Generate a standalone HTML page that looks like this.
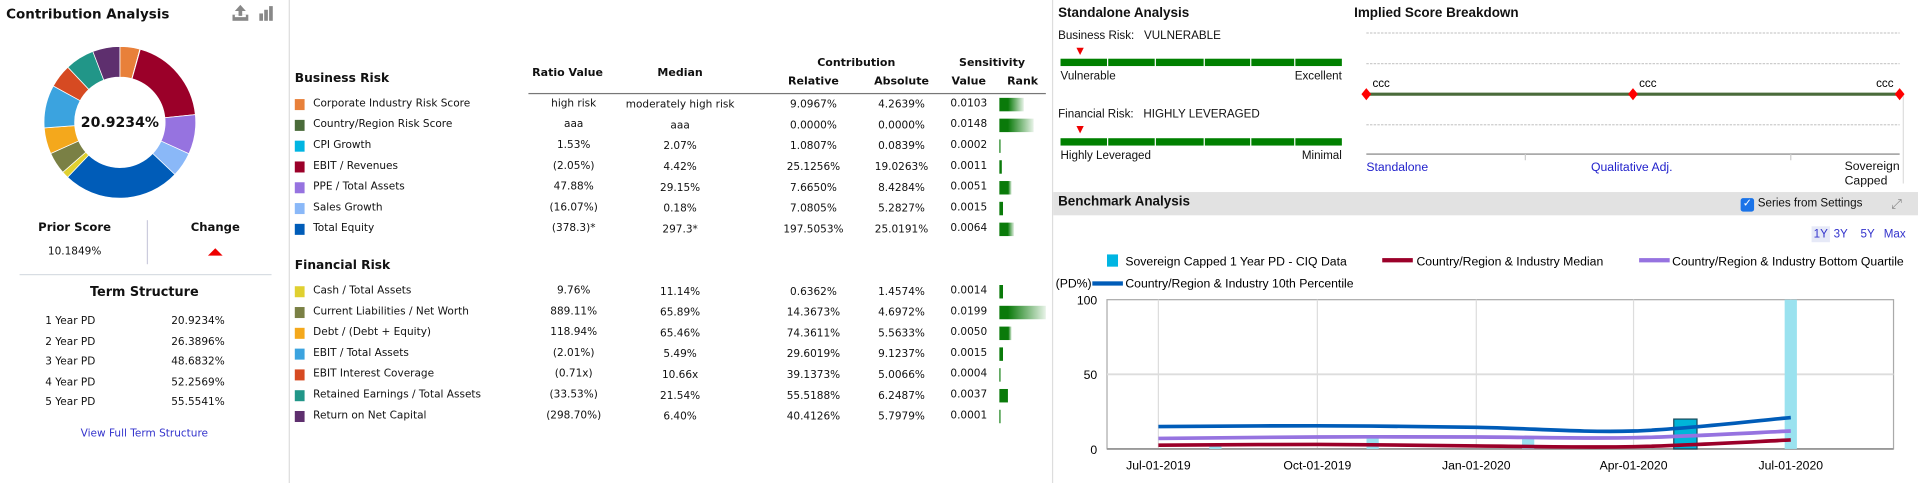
<!DOCTYPE html>
<html><head><meta charset="utf-8">
<style>
html,body{margin:0;padding:0;background:#fff;overflow:hidden;width:1918px;height:483px}
#root{position:absolute;left:0;top:0;width:1568px;height:395px;transform:scale(1.22321);transform-origin:0 0;font-family:"DejaVu Sans","Liberation Sans",sans-serif;color:#111}
.a{position:absolute;white-space:nowrap}
.t{font-family:"DejaVu Sans",sans-serif;font-size:8.6px}
.h{font-family:"DejaVu Sans",sans-serif;font-weight:bold;font-size:10px}
.n{font-family:"Liberation Sans Narrow","Liberation Sans",sans-serif;font-size:9.5px}
.c{transform:translateX(-50%)}
.r{transform:translateX(-100%)}
.seg{position:absolute;height:6px;background:#008000}
</style></head><body>
<div id="root">
<!-- Left panel -->
<div class="a h" style="left:5px;top:5px;font-size:11px">Contribution Analysis</div>
<svg class="a" style="left:190px;top:3px" width="40" height="16">
<g fill="#888"><rect x="0" y="9" width="13" height="5"/><rect x="2" y="9" width="9" height="2" fill="#fff"/><polygon points="6.5,1 11,6 8,6 8,10 5,10 5,6 2,6"/></g>
<g fill="#888"><rect x="22" y="8" width="3" height="6"/><rect x="26" y="5" width="3" height="9"/><rect x="30" y="2" width="3" height="12"/></g>
</svg>
<svg id="donut" class="a" style="left:0;top:0" width="236" height="180"></svg>
<div class="a h c" style="left:98px;top:93px;font-size:11.5px">20.9234%</div>
<div class="a h c" style="left:61px;top:181px;font-size:9.5px">Prior Score</div>
<div class="a t c" style="left:61px;top:201px">10.1849%</div>
<div class="a" style="left:120px;top:180px;width:1px;height:36px;background:#ccd"></div>
<div class="a h c" style="left:176px;top:181px;font-size:9.5px">Change</div>
<div class="a" style="left:170px;top:203px;width:0;height:0;border-left:6px solid transparent;border-right:6px solid transparent;border-bottom:6px solid #e00"></div>
<div class="a" style="left:16px;top:224px;width:206px;height:1px;background:#d8dde3"></div>
<div class="a h c" style="left:118px;top:233px;font-size:10.5px">Term Structure</div>
<div id="term"></div>
<div class="a t c" style="left:118px;top:350px;color:#3333cc">View Full Term Structure</div>
<div class="a" style="left:236px;top:0;width:1px;height:395px;background:#ddd"></div>

<!-- Middle table -->
<div class="a h" style="left:241px;top:59px">Business Risk</div>
<div class="a h c" style="left:464px;top:55px;font-size:9px">Ratio Value</div>
<div class="a h c" style="left:556px;top:55px;font-size:9px">Median</div>
<div class="a h c" style="left:700px;top:47px;font-size:9px">Contribution</div>
<div class="a h c" style="left:665px;top:62px;font-size:9px">Relative</div>
<div class="a h c" style="left:737px;top:62px;font-size:9px">Absolute</div>
<div class="a h c" style="left:811px;top:47px;font-size:9px">Sensitivity</div>
<div class="a h c" style="left:792px;top:62px;font-size:9px">Value</div>
<div class="a h c" style="left:836px;top:62px;font-size:9px">Rank</div>
<div class="a" style="left:432px;top:76px;width:423px;height:1px;background:#777"></div>
<div class="a h" style="left:241px;top:212px">Financial Risk</div>
<div id="rows"></div>
<div class="a" style="left:860px;top:0;width:1px;height:395px;background:#ddd"></div>

<!-- Standalone -->
<div class="a h n" style="left:865px;top:5px;font-size:11px;font-family:'Liberation Sans Narrow','Liberation Sans',sans-serif">Standalone Analysis</div>
<div class="a n" style="left:865px;top:24px">Business Risk:&nbsp;&nbsp; VULNERABLE</div>
<div class="a" style="left:880px;top:39px;border-left:3px solid transparent;border-right:3px solid transparent;border-top:6px solid #e00"></div>
<div id="bizbar"></div>
<div class="a n" style="left:867px;top:57px">Vulnerable</div>
<div class="a n r" style="left:1097px;top:57px">Excellent</div>
<div class="a n" style="left:865px;top:88px">Financial Risk:&nbsp;&nbsp; HIGHLY LEVERAGED</div>
<div class="a" style="left:880px;top:103px;border-left:3px solid transparent;border-right:3px solid transparent;border-top:6px solid #e00"></div>
<div id="finbar"></div>
<div class="a n" style="left:867px;top:122px">Highly Leveraged</div>
<div class="a n r" style="left:1097px;top:122px">Minimal</div>

<!-- Implied score -->
<div class="a h" style="left:1107px;top:5px;font-size:11px;font-family:'Liberation Sans Narrow','Liberation Sans',sans-serif">Implied Score Breakdown</div>
<svg id="implied" class="a" style="left:0;top:0" width="1568" height="160"></svg>

<!-- Benchmark -->
<div class="a" style="left:861px;top:157px;width:707px;height:19px;background:#e2e2e2"></div>
<div class="a h" style="left:865px;top:159px;font-size:11px;font-family:'Liberation Sans Narrow','Liberation Sans',sans-serif">Benchmark Analysis</div>
<div class="a" style="left:1423px;top:162px;width:11px;height:11px;background:#1a73e8;border-radius:2px;color:#fff;font-size:9px;line-height:11px;text-align:center">✓</div>
<div class="a n" style="left:1437px;top:161px">Series from Settings</div>
<div class="a" style="left:1546px;top:160px;color:#888;font-size:11px">⤢</div>
<div class="a n" style="left:1481px;top:185px;background:#e6e9f7;width:15px;height:13px;color:#3333cc;text-align:center;line-height:13px">1Y</div>
<div class="a n" style="left:1499px;top:185px;color:#3333cc;line-height:13px">3Y</div>
<div class="a n" style="left:1521px;top:185px;color:#3333cc;line-height:13px">5Y</div>
<div class="a n" style="left:1540px;top:185px;color:#3333cc;line-height:13px">Max</div>
<svg id="bench" class="a" style="left:0;top:0" width="1568" height="395"></svg>
</div>
<script>
// ---- Donut data ----
const donutLabels=["Corporate Industry Risk Score","Country/Region Risk Score","CPI Growth","EBIT / Revenues","PPE / Total Assets","Sales Growth","Total Equity","Cash / Total Assets","Current Liabilities / Net Worth","Debt / (Debt + Equity)","EBIT / Total Assets","EBIT Interest Coverage","Retained Earnings / Total Assets","Return on Net Capital"];
const donutValues=[4.2639,0.0,0.0839,19.0263,8.4284,5.2827,25.0191,1.4574,4.6972,5.5633,9.1237,5.0066,6.2487,5.7979];
const donutColors=["#e8803a","#4a6b3a","#00b5e2","#9b0029","#9673e0","#8ab8f8","#005cb8","#e0d030","#7a8045","#f4a81c","#3ba3df","#d64a22","#219688","#5e2f6e"];
const ns="http://www.w3.org/2000/svg";
function mk(t,at,p){const e=document.createElementNS(ns,t);for(const k in at)e.setAttribute(k,at[k]);p.appendChild(e);return e;}
(function(){
 const svg=document.getElementById('donut');const cx=98,cy=100,R=62,r=37;
 const tot=donutValues.reduce((a,b)=>a+b,0);let a0=0;
 donutValues.forEach((v,i)=>{
  const a1=a0+v/tot*Math.PI*2;
  const p=(a,rr)=>[cx+rr*Math.sin(a),cy-rr*Math.cos(a)];
  const [x1,y1]=p(a0,R),[x2,y2]=p(a1,R),[x3,y3]=p(a1,r),[x4,y4]=p(a0,r);const lg=(a1-a0)>Math.PI?1:0;
  const e=mk('path',{d:`M${x1},${y1}A${R},${R} 0 ${lg} 1 ${x2},${y2}L${x3},${y3}A${r},${r} 0 ${lg} 0 ${x4},${y4}Z`,fill:donutColors[i],stroke:'#fff','stroke-width':0.6},svg);
  
  
  a0=a1;});
})();
// ---- Term structure ----
const termLabels=["1 Year PD","2 Year PD","3 Year PD","4 Year PD","5 Year PD"];
const termValues=["20.9234%","26.3896%","48.6832%","52.2569%","55.5541%"];
(function(){const root=document.getElementById('root');
 termLabels.forEach((l,i)=>{const y=258+i*16.6;
  const a=document.createElement('div');a.className='a t';a.style.left='37px';a.style.top=y+'px';a.textContent=l;
  
  
  root.appendChild(a);
  const b=document.createElement('div');b.className='a t';b.style.left='140px';b.style.top=y+'px';b.textContent=termValues[i];
  
  
  root.appendChild(b);});})();
// ---- Table ----
const ratioVals=["high risk","aaa","1.53%","(2.05%)","47.88%","(16.07%)","(378.3)*","9.76%","889.11%","118.94%","(2.01%)","(0.71x)","(33.53%)","(298.70%)"];
const medianVals=["moderately high risk","aaa","2.07%","4.42%","29.15%","0.18%","297.3*","11.14%","65.89%","65.46%","5.49%","10.66x","21.54%","6.40%"];
const relVals=["9.0967%","0.0000%","1.0807%","25.1256%","7.6650%","7.0805%","197.5053%","0.6362%","14.3673%","74.3611%","29.6019%","39.1373%","55.5188%","40.4126%"];
const absVals=["4.2639%","0.0000%","0.0839%","19.0263%","8.4284%","5.2827%","25.0191%","1.4574%","4.6972%","5.5633%","9.1237%","5.0066%","6.2487%","5.7979%"];
const sensVals=[0.0103,0.0148,0.0002,0.0011,0.0051,0.0015,0.0064,0.0014,0.0199,0.0050,0.0015,0.0004,0.0037,0.0001];
(function(){const root=document.getElementById('root');
 const add=(txt,x,y,cls,name)=>{const d=document.createElement('div');d.className='a t '+cls;d.style.left=x+'px';d.style.top=y+'px';d.textContent=txt;
  
  
  root.appendChild(d);return d;};
 donutLabels.forEach((l,i)=>{const y=(i<7?80+i*17:233+(i-7)*17);
  const sq=document.createElement('div');sq.className='a';sq.style.cssText=`left:241px;top:${y+1}px;width:8px;height:9px;background:${donutColors[i]}`;
  
  
  root.appendChild(sq);
  add(l,256,y,'','factor-label');
  add(ratioVals[i],469,y,'c','ratio-value');
  add(medianVals[i],556,y+1,'c','median-value');
  add(relVals[i],665,y+1,'c','relative-contribution');
  add(absVals[i],737,y+1,'c','absolute-contribution');
  add(sensVals[i].toFixed(4),792,y,'c','sensitivity-value');
  const w=Math.max(1.2,sensVals[i]*1900);
  const b=document.createElement('div');b.className='a';b.style.cssText=`left:817px;top:${y}px;width:${w}px;height:11px;background:linear-gradient(to right,#0a7a0a,#0a7a0a ${Math.min(100,700/w)}%,#e8f3e8)`;
  
  
  root.appendChild(b);});
 // standalone bars
 const segs=(top,id)=>{const xs=[867,905,944,984,1022,1058,1097];for(let k=0;k<6;k++){const s=document.createElement('div');s.className='seg';s.style.left=(xs[k]+(k?1:0))+'px';s.style.top=top+'px';s.style.width=(xs[k+1]-xs[k]-(k?1:0))+'px';
  
  
  root.appendChild(s);}};
 segs(48,'business-risk');segs(113,'financial-risk');
})();
// ---- Implied score ----
const impliedCats=["Standalone","Qualitative Adj.","Sovereign Capped"];
const impliedScores=["ccc","ccc","ccc"];
const impliedLevels=[3,3,3];
(function(){const svg=document.getElementById('implied');
 const xs=i=>1117+i*218, ys=l=>25+(l-1)*25;
 [1,2,4].forEach(l=>mk('line',{x1:1117,x2:1553,y1:ys(l)+2,y2:ys(l)+2,stroke:'#ccc','stroke-dasharray':'2,1'},svg));
 mk('line',{x1:1117,x2:1553,y1:126,y2:126,stroke:'#aaa','stroke-width':1.5},svg);
 [1247,1464].forEach(x=>mk('line',{x1:x,x2:x,y1:126,y2:131,stroke:'#ccc'},svg));
 mk('line',{x1:1556,x2:1556,y1:78,y2:150,stroke:'#ddd'},svg);
 let d='';impliedLevels.forEach((l,i)=>{d+=(i?'L':'M')+xs(i)+','+(ys(l)+2);});
 const ln=mk('path',{d,stroke:'#4a6b3a','stroke-width':2.5,fill:'none'},svg);
 
 impliedLevels.forEach((l,i)=>{const x=xs(i),y=ys(l)+2;
  const dm=mk('polygon',{points:`${x},${y-5} ${x+4},${y} ${x},${y+5} ${x-4},${y}`,fill:'#f00'},svg);
  
  
  const t=mk('text',{x:i==2?x-5:x+5,y:y-6,'font-size':9.5,'font-family':'Liberation Sans Narrow,Liberation Sans,sans-serif','text-anchor':i==2?'end':'start'},svg);t.textContent=impliedScores[i];
  });
 const lab=(txt,x,y,anc,col,name)=>{const t=mk('text',{x,y,'font-size':10,'font-family':'Liberation Sans Narrow,Liberation Sans,sans-serif','text-anchor':anc,fill:col},svg);t.textContent=txt;
  };
 lab(impliedCats[0],1117,140,'start','#2222cc','standalone-axis-label');
 lab(impliedCats[1],1334,140,'middle','#2222cc','qualitative-adj-axis-label');
 lab('Sovereign',1553,139,'end','#111','sovereign-axis-label');
 lab('Capped',1508,151,'start','#111','capped-axis-label');
})();
// ---- Benchmark ----
const xTickDays=[0,92,184,275,366];
const xTickLabels=["Jul-01-2019","Oct-01-2019","Jan-01-2020","Apr-01-2020","Jul-01-2020"];
const yTicks=[0,50,100];
const barDays=[33,124,214,305,366];
const barValues=[3,7,7,20,100];
const lineDays=[0,92,184,275,366];
const tenthPct=[15,15.5,14.5,12,21];
const bottomQuartile=[7,8,8,7.5,12];
const medianSeries=[2.5,3,2,1.5,6];
(function(){const svg=document.getElementById('bench');
 const X0=947,X1=1464,L=905,R=1548,T=245,B=367;
 const x=d=>X0+d*(X1-X0)/366, y=v=>B-v*(B-T)/100;
 mk('rect',{x:L,y:T,width:R-L,height:B-T,fill:'#fff',stroke:'#aaa'},svg);
 xTickDays.forEach((d,i)=>{mk('line',{x1:x(d),x2:x(d),y1:T,y2:B,stroke:'#ddd'},svg);
  const t=mk('text',{x:x(d),y:B+17,'text-anchor':'middle','font-size':10,'font-family':'Liberation Sans Narrow,Liberation Sans,sans-serif'},svg);t.textContent=xTickLabels[i];
  });
 yTicks.forEach(v=>{if(v>0&&v<100)mk('line',{x1:L,x2:R,y1:y(v),y2:y(v),stroke:'#ddd','stroke-width':1.5},svg);
  const t=mk('text',{x:L-8,y:y(v)+4,'text-anchor':'end','font-size':10,'font-family':'Liberation Sans Narrow,Liberation Sans,sans-serif'},svg);t.textContent=v;
  });
 mk('line',{x1:L,x2:R,y1:B,y2:B,stroke:'#999','stroke-width':1.5},svg);
 barDays.forEach((d,i)=>{const sel=i==3,w=sel?19:10;
  const b=mk('rect',{x:x(d)-w/2,y:y(barValues[i]),width:w,height:B-y(barValues[i]),fill:sel?'#00b5d8':'#9ae2ef',stroke:sel?'#1a4a5a':'none','stroke-width':1},svg);
  
  });
 const spline=(vals)=>{const P=lineDays.map((d,i)=>[x(d),y(vals[i])]);let s='M'+P[0];
  for(let i=0;i<P.length-1;i++){const p0=P[i-1]||P[i],p1=P[i],p2=P[i+1],p3=P[i+2]||p2;
   const c1=[p1[0]+(p2[0]-p0[0])/6,p1[1]+(p2[1]-p0[1])/6],c2=[p2[0]-(p3[0]-p1[0])/6,p2[1]-(p3[1]-p1[1])/6];
   s+=`C${c1} ${c2} ${p2}`;}return s;};
 [[medianSeries,'#9b0029','median-line'],[bottomQuartile,'#9673e0','bottom-quartile-line'],[tenthPct,'#005cb8','tenth-percentile-line']].forEach(([v,c,n])=>{
  const p=mk('path',{d:spline(v),stroke:c,'stroke-width':3,fill:'none'},svg);
  
  });
 // legend
 const lt=(txt,lx,ly,n)=>{const t=mk('text',{x:lx,y:ly,'font-size':10,'font-family':'Liberation Sans Narrow,Liberation Sans,sans-serif'},svg);t.textContent=txt;
  };
 const sw=mk('rect',{x:905,y:208,width:9,height:10,fill:'#00b5e2'},svg);
 lt('Sovereign Capped 1 Year PD - CIQ Data',920,217,'legend-sovereign');
 mk('rect',{x:1130,y:211,width:25,height:3.5,fill:'#9b0029'},svg);
 lt('Country/Region & Industry Median',1158,217,'legend-median');
 mk('rect',{x:1340,y:211,width:25,height:3.5,fill:'#9673e0'},svg);
 lt('Country/Region & Industry Bottom Quartile',1367,217,'legend-bottom-quartile');
 lt('(PD%)',863,235,'y-axis-unit');
 mk('rect',{x:893,y:230,width:25,height:3.5,fill:'#005cb8'},svg);
 lt('Country/Region & Industry 10th Percentile',920,235,'legend-tenth-percentile');
})();
</script>
</body></html>
